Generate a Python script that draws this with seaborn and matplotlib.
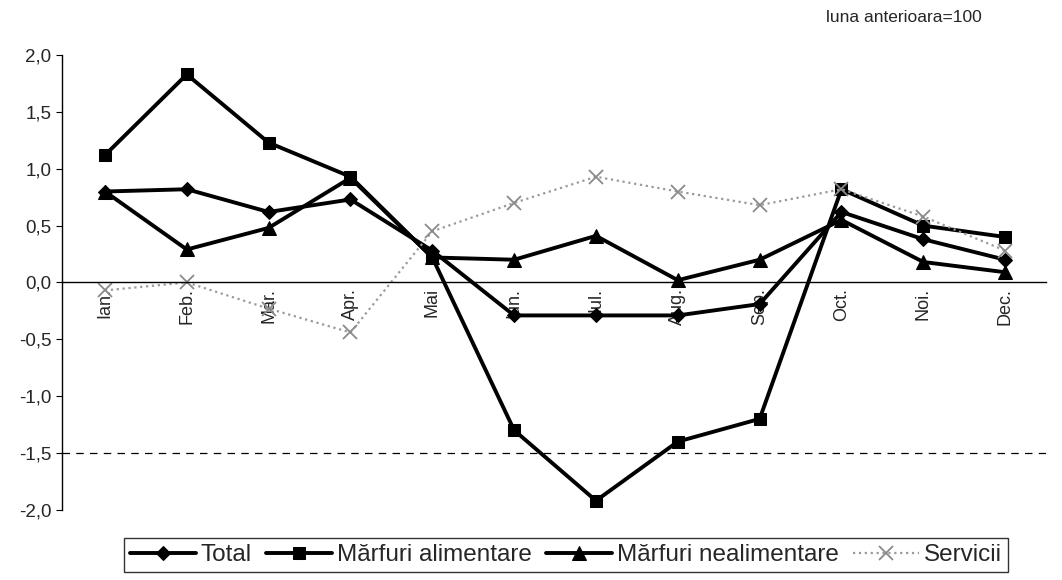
import numpy as np
import pandas as pd
import matplotlib
matplotlib.use("Agg")
import matplotlib.pyplot as plt
import seaborn as sns
from matplotlib.ticker import FixedLocator, FuncFormatter

# date (luna anterioara = 100, variatie %)
luni = ["Ian.", "Feb.", "Mar.", "Apr.", "Mai", "Iun.", "Iul.", "Aug.", "Sep.", "Oct.", "Noi.", "Dec."]
total = [0.80, 0.82, 0.62, 0.73, 0.28, -0.29, -0.29, -0.29, -0.19, 0.62, 0.38, 0.20]
alimentare = [1.12, 1.83, 1.23, 0.93, 0.22, -1.30, -1.92, -1.40, -1.20, 0.82, 0.50, 0.40]
nealimentare = [0.80, 0.29, 0.48, 0.92, 0.22, 0.20, 0.41, 0.02, 0.20, 0.55, 0.18, 0.09]
servicii = [-0.07, 0.00, -0.23, -0.44, 0.45, 0.70, 0.93, 0.80, 0.68, 0.82, 0.58, 0.28]
serii = ["Total", "Mărfuri alimentare", "Mărfuri nealimentare", "Servicii"]
y_ticks = [2.0, 1.5, 1.0, 0.5, 0.0, -0.5, -1.0, -1.5, -2.0]

sns.set_style("white")
plt.rcParams['font.family'] = ['Liberation Sans', 'DejaVu Sans']
plt.rcParams['axes.unicode_minus'] = False

pos = np.arange(len(luni))
df = pd.DataFrame({
    "pos": np.tile(pos, 4),
    "val": total + alimentare + nealimentare + servicii,
    "serie": np.repeat(serii, len(luni)),
})

stiluri = {
    "Total": dict(color="black", marker="D", markersize=7, linewidth=2.8,
                  markeredgecolor="black"),
    "Mărfuri alimentare": dict(color="black", marker="s", markersize=8.5, linewidth=2.8,
                               markeredgecolor="black"),
    "Mărfuri nealimentare": dict(color="black", marker="^", markersize=10, linewidth=2.8,
                                 markeredgecolor="black"),
    "Servicii": dict(color="#9a9a9a", marker="x", markersize=10, markeredgewidth=1.3,
                     markeredgecolor="#8a8a8a", linewidth=1.6, linestyle=":"),
}

fig = plt.figure(figsize=(10.62, 5.8), dpi=100)
ax = fig.add_axes([0.058, 0.121, 0.927, 0.784])

ax.axhline(-1.5, color="black", lw=0.9, ls=(0, (6, 5)), zorder=1)

for s in serii:
    sub = df[df["serie"] == s]
    sns.lineplot(data=sub, x="pos", y="val", ax=ax, label=s, **stiluri[s])

ax.set_xlim(-0.53, 11.5)
ax.set_ylim(-2.0, 2.0)
ax.set_xlabel("")
ax.set_ylabel("")

# axe
for sp in ["top", "right"]:
    ax.spines[sp].set_visible(False)
ax.spines["bottom"].set_position(("data", 0))
ax.spines["bottom"].set_linewidth(1.0)
ax.spines["left"].set_linewidth(1.0)
ax.spines["bottom"].set_color("black")
ax.spines["left"].set_color("black")

ax.set_xticks(pos)
ax.set_xticklabels(luni, rotation=90, fontsize=13)
ax.xaxis.set_minor_locator(FixedLocator(pos[:-1] + 0.5))
ax.tick_params(axis="x", which="major", length=0, pad=4)
ax.tick_params(axis="x", which="minor", direction="in", length=5, color="black")

ax.set_yticks(y_ticks)
ax.yaxis.set_major_formatter(FuncFormatter(lambda v, p: f"{v:.1f}".replace(".", ",")))
ax.tick_params(axis="y", which="major", direction="out", length=4, labelsize=13.5,
               color="black", left=True)

handles, labels = ax.get_legend_handles_labels()
if ax.get_legend() is not None:
    ax.get_legend().remove()
leg = fig.legend(handles, labels, loc="center", bbox_to_anchor=(0.533, 0.043), ncol=4,
                 frameon=True, fancybox=False, edgecolor="black", fontsize=17.5,
                 handlelength=2.7, handletextpad=0.2, columnspacing=0.6, borderpad=0.25)
leg.get_frame().set_linewidth(1.0)

fig.text(0.851, 0.969, "luna anterioara=100", ha="center", va="center", fontsize=12.5)

fig.savefig("out.png", dpi=100)
